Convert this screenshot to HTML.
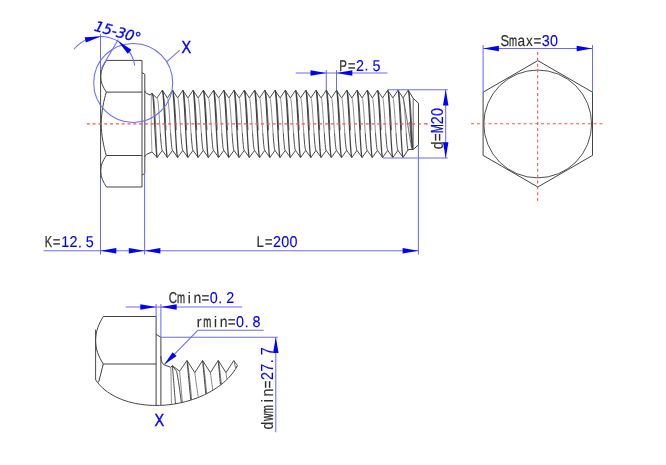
<!DOCTYPE html>
<html lang="en"><head><meta charset="utf-8"><title>Hex bolt dimensions</title>
<style>
html,body{margin:0;padding:0;background:#fff;}
body{width:666px;height:465px;overflow:hidden;}
svg{display:block;will-change:transform;}
text{font-family:"Liberation Sans",sans-serif;}
.m{font-family:"Liberation Sans",sans-serif;font-size:15.6px;}
.x{font-family:"Liberation Sans",sans-serif;font-size:16.3px;fill:#0000ff;stroke:#0000ff;stroke-width:0.4px;}
.a{font-family:"DejaVu Sans","Liberation Sans",sans-serif;font-style:oblique;font-size:14.3px;letter-spacing:-0.25px;fill:#0000ff;stroke:#0000ff;stroke-width:0.3px;}
</style></head><body>
<svg width="666" height="465" viewBox="0 0 666 465">
<rect width="666" height="465" fill="#fff"/>
<path d="M106.5,60.4 L142,60.4 L142,187 L106.5,187" stroke="#424242" stroke-width="1.0" fill="none" />
<path d="M100.6,69.5 L100.6,177.9" stroke="#4a4a4a" stroke-width="1.0" fill="none" />
<path d="M106.3,92.1 L142,92.1 M106.3,155.5 L142,155.5" stroke="#424242" stroke-width="1.0" fill="none" />
<path d="M106.5,60.4 C103.5,65 100.7,70 100.7,76.5 C100.7,82.5 103,87 106.3,92.1" stroke="#424242" stroke-width="1.0" fill="none" />
<path d="M106.3,92.1 C103.8,100.5 101.3,112 101.2,123.8 C101.3,135.6 103.8,147.1 106.3,155.5" stroke="#424242" stroke-width="1.0" fill="none" />
<path d="M106.5,187 C103.5,182.4 100.7,177.4 100.7,170.9 C100.7,164.9 103,160.4 106.3,155.5" stroke="#424242" stroke-width="1.0" fill="none" />
<path d="M142,72.5 L144.8,74.3 L144.8,173.3 L142,175.1" stroke="#424242" stroke-width="1.0" fill="none" />
<path d="M144.8,90.8 Q145,92.8 146.6,93.3 L150.2,95.1 L151.8,93.3" stroke="#424242" stroke-width="1.0" fill="none" />
<path d="M144.8,156.8 Q145,155 146.6,154.4 L152,151.9" stroke="#424242" stroke-width="1.0" fill="none" />
<path d="M151.4,93.9 C151.0,110 151.2,135 152,151.9" stroke="#777" stroke-width="0.7" fill="none" />
<path d="M151.8,93.3 L156.9,98.1 L162.3,90.3 L167.42,97.9 L172.55,90.3 L177.67,97.9 L182.79,90.3 L187.91,97.9 L193.04,90.3 L198.16,97.9 L203.28,90.3 L208.41,97.9 L213.53,90.3 L218.65,97.9 L223.78,90.3 L228.9,97.9 L234.02,90.3 L239.15,97.9 L244.27,90.3 L249.39,97.9 L254.51,90.3 L259.64,97.9 L264.76,90.3 L269.88,97.9 L275.01,90.3 L280.13,97.9 L285.25,90.3 L290.38,97.9 L295.5,90.3 L300.62,97.9 L305.74,90.3 L310.87,97.9 L315.99,90.3 L321.11,97.9 L326.24,90.3 L331.36,97.9 L336.48,90.3 L341.61,97.9 L346.73,90.3 L351.85,97.9 L356.97,90.3 L362.1,97.9 L367.22,90.3 L372.34,97.9 L377.47,90.3 L382.59,97.9 L387.71,90.3 L392.83,97.9 L397.96,90.3 L403.08,97.9 L408.2,90.3" stroke="#424242" stroke-width="0.95" fill="none" />
<path d="M152,151.9 L157.18,157.5 L162.3,150.4 L167.42,157.5 L172.55,150.4 L177.67,157.5 L182.79,150.4 L187.92,157.5 L193.04,150.4 L198.16,157.5 L203.28,150.4 L208.41,157.5 L213.53,150.4 L218.65,157.5 L223.78,150.4 L228.9,157.5 L234.02,150.4 L239.15,157.5 L244.27,150.4 L249.39,157.5 L254.51,150.4 L259.64,157.5 L264.76,150.4 L269.88,157.5 L275.01,150.4 L280.13,157.5 L285.25,150.4 L290.38,157.5 L295.5,150.4 L300.62,157.5 L305.74,150.4 L310.87,157.5 L315.99,150.4 L321.11,157.5 L326.24,150.4 L331.36,157.5 L336.48,150.4 L341.61,157.5 L346.73,150.4 L351.85,157.5 L356.97,150.4 L362.1,157.5 L367.22,150.4 L372.34,157.5 L377.47,150.4 L382.59,157.5 L387.71,150.4 L392.84,157.5 L397.96,150.4 L403.08,157.5" stroke="#424242" stroke-width="0.95" fill="none" />
<path d="M151.8,93.3 L152.95,95.96 L153.27,100.14 L153.6,105.23 L153.93,111.04 L154.27,117.34 L154.62,123.9 L154.96,130.46 L155.3,136.76 L155.63,142.57 L155.96,147.66 L156.28,151.84 L156.59,154.94 L156.89,156.85 L157.18,157.5" stroke="#424242" stroke-width="1.1" fill="none" />
<path d="M151.8,93.3 L153.45,95.96 L153.91,100.14 L154.35,105.23 L154.77,111.04 L155.16,117.34 L155.52,123.9 L155.84,130.46 L156.13,136.76 L156.38,142.57 L156.6,147.66 L156.78,151.84 L156.93,154.94 L157.06,156.85 L157.18,157.5" stroke="#444" stroke-width="0.75" fill="none" />
<path d="M162.3,90.3 L162.59,90.95 L162.89,92.86 L163.2,95.96 L163.52,100.14 L163.85,105.23 L164.18,111.04 L164.52,117.34 L164.86,123.9 L165.2,130.46 L165.54,136.76 L165.88,142.57 L166.21,147.66 L166.53,151.84 L166.84,154.94 L167.14,156.85 L167.42,157.5" stroke="#424242" stroke-width="1.25" fill="none" />
<path d="M162.3,90.3 L162.7,90.82 L163.1,92.36 L163.5,94.87 L163.9,98.28 L164.29,102.48 L164.67,107.34 L165.03,112.72 L165.37,118.44 L165.68,124.32 L165.98,130.2" stroke="#3a3a3a" stroke-width="0.8" fill="none" />
<path d="M172.55,90.3 L172.83,90.95 L173.13,92.86 L173.44,95.96 L173.76,100.14 L174.09,105.23 L174.43,111.04 L174.77,117.34 L175.11,123.9 L175.45,130.46 L175.79,136.76 L176.12,142.57 L176.45,147.66 L176.77,151.84 L177.08,154.94 L177.38,156.85 L177.67,157.5" stroke="#424242" stroke-width="1.25" fill="none" />
<path d="M172.55,90.3 L172.94,90.82 L173.35,92.36 L173.75,94.87 L174.15,98.28 L174.54,102.48 L174.91,107.34 L175.27,112.72 L175.61,118.44 L175.93,124.32 L176.22,130.2" stroke="#3a3a3a" stroke-width="0.8" fill="none" />
<path d="M182.79,90.3 L183.08,90.95 L183.38,92.86 L183.69,95.96 L184.01,100.14 L184.34,105.23 L184.67,111.04 L185.01,117.34 L185.35,123.9 L185.7,130.46 L186.03,136.76 L186.37,142.57 L186.7,147.66 L187.02,151.84 L187.33,154.94 L187.63,156.85 L187.91,157.5" stroke="#424242" stroke-width="1.25" fill="none" />
<path d="M182.79,90.3 L183.19,90.82 L183.59,92.36 L183.99,94.87 L184.39,98.28 L184.78,102.48 L185.16,107.34 L185.52,112.72 L185.86,118.44 L186.18,124.32 L186.47,130.2" stroke="#3a3a3a" stroke-width="0.8" fill="none" />
<path d="M193.04,90.3 L193.33,90.95 L193.62,92.86 L193.94,95.96 L194.26,100.14 L194.58,105.23 L194.92,111.04 L195.26,117.34 L195.6,123.9 L195.94,130.46 L196.28,136.76 L196.62,142.57 L196.94,147.66 L197.26,151.84 L197.57,154.94 L197.87,156.85 L198.16,157.5" stroke="#424242" stroke-width="1.25" fill="none" />
<path d="M193.04,90.3 L193.44,90.82 L193.84,92.36 L194.24,94.87 L194.64,98.28 L195.03,102.48 L195.4,107.34 L195.76,112.72 L196.1,118.44 L196.42,124.32 L196.71,130.2" stroke="#3a3a3a" stroke-width="0.8" fill="none" />
<path d="M203.28,90.3 L203.57,90.95 L203.87,92.86 L204.18,95.96 L204.5,100.14 L204.83,105.23 L205.16,111.04 L205.5,117.34 L205.85,123.9 L206.19,130.46 L206.53,136.76 L206.86,142.57 L207.19,147.66 L207.51,151.84 L207.82,154.94 L208.12,156.85 L208.41,157.5" stroke="#424242" stroke-width="1.25" fill="none" />
<path d="M203.28,90.3 L203.68,90.82 L204.08,92.36 L204.49,94.87 L204.88,98.28 L205.27,102.48 L205.65,107.34 L206.01,112.72 L206.35,118.44 L206.67,124.32 L206.96,130.2" stroke="#3a3a3a" stroke-width="0.8" fill="none" />
<path d="M213.53,90.3 L213.82,90.95 L214.12,92.86 L214.43,95.96 L214.75,100.14 L215.08,105.23 L215.41,111.04 L215.75,117.34 L216.09,123.9 L216.43,130.46 L216.77,136.76 L217.11,142.57 L217.44,147.66 L217.76,151.84 L218.07,154.94 L218.37,156.85 L218.65,157.5" stroke="#424242" stroke-width="1.25" fill="none" />
<path d="M213.53,90.3 L213.93,90.82 L214.33,92.36 L214.73,94.87 L215.13,98.28 L215.52,102.48 L215.9,107.34 L216.26,112.72 L216.6,118.44 L216.91,124.32 L217.21,130.2" stroke="#3a3a3a" stroke-width="0.8" fill="none" />
<path d="M223.78,90.3 L224.06,90.95 L224.36,92.86 L224.67,95.96 L224.99,100.14 L225.32,105.23 L225.66,111.04 L226,117.34 L226.34,123.9 L226.68,130.46 L227.02,136.76 L227.35,142.57 L227.68,147.66 L228,151.84 L228.31,154.94 L228.61,156.85 L228.9,157.5" stroke="#424242" stroke-width="1.25" fill="none" />
<path d="M223.78,90.3 L224.17,90.82 L224.58,92.36 L224.98,94.87 L225.38,98.28 L225.77,102.48 L226.14,107.34 L226.5,112.72 L226.84,118.44 L227.16,124.32 L227.45,130.2" stroke="#3a3a3a" stroke-width="0.8" fill="none" />
<path d="M234.02,90.3 L234.31,90.95 L234.61,92.86 L234.92,95.96 L235.24,100.14 L235.57,105.23 L235.9,111.04 L236.24,117.34 L236.58,123.9 L236.93,130.46 L237.26,136.76 L237.6,142.57 L237.93,147.66 L238.25,151.84 L238.56,154.94 L238.86,156.85 L239.15,157.5" stroke="#424242" stroke-width="1.25" fill="none" />
<path d="M234.02,90.3 L234.42,90.82 L234.82,92.36 L235.22,94.87 L235.62,98.28 L236.01,102.48 L236.39,107.34 L236.75,112.72 L237.09,118.44 L237.41,124.32 L237.7,130.2" stroke="#3a3a3a" stroke-width="0.8" fill="none" />
<path d="M244.27,90.3 L244.56,90.95 L244.85,92.86 L245.17,95.96 L245.49,100.14 L245.81,105.23 L246.15,111.04 L246.49,117.34 L246.83,123.9 L247.17,130.46 L247.51,136.76 L247.85,142.57 L248.17,147.66 L248.49,151.84 L248.8,154.94 L249.1,156.85 L249.39,157.5" stroke="#424242" stroke-width="1.25" fill="none" />
<path d="M244.27,90.3 L244.67,90.82 L245.07,92.36 L245.47,94.87 L245.87,98.28 L246.26,102.48 L246.63,107.34 L246.99,112.72 L247.33,118.44 L247.65,124.32 L247.94,130.2" stroke="#3a3a3a" stroke-width="0.8" fill="none" />
<path d="M254.51,90.3 L254.8,90.95 L255.1,92.86 L255.41,95.96 L255.73,100.14 L256.06,105.23 L256.39,111.04 L256.73,117.34 L257.08,123.9 L257.42,130.46 L257.76,136.76 L258.09,142.57 L258.42,147.66 L258.74,151.84 L259.05,154.94 L259.35,156.85 L259.64,157.5" stroke="#424242" stroke-width="1.25" fill="none" />
<path d="M254.51,90.3 L254.91,90.82 L255.31,92.36 L255.72,94.87 L256.11,98.28 L256.5,102.48 L256.88,107.34 L257.24,112.72 L257.58,118.44 L257.9,124.32 L258.19,130.2" stroke="#3a3a3a" stroke-width="0.8" fill="none" />
<path d="M264.76,90.3 L265.05,90.95 L265.35,92.86 L265.66,95.96 L265.98,100.14 L266.31,105.23 L266.64,111.04 L266.98,117.34 L267.32,123.9 L267.66,130.46 L268,136.76 L268.34,142.57 L268.67,147.66 L268.99,151.84 L269.3,154.94 L269.6,156.85 L269.88,157.5" stroke="#424242" stroke-width="1.25" fill="none" />
<path d="M264.76,90.3 L265.16,90.82 L265.56,92.36 L265.96,94.87 L266.36,98.28 L266.75,102.48 L267.13,107.34 L267.49,112.72 L267.83,118.44 L268.14,124.32 L268.44,130.2" stroke="#3a3a3a" stroke-width="0.8" fill="none" />
<path d="M275.01,90.3 L275.29,90.95 L275.59,92.86 L275.9,95.96 L276.22,100.14 L276.55,105.23 L276.89,111.04 L277.23,117.34 L277.57,123.9 L277.91,130.46 L278.25,136.76 L278.58,142.57 L278.91,147.66 L279.23,151.84 L279.54,154.94 L279.84,156.85 L280.13,157.5" stroke="#424242" stroke-width="1.25" fill="none" />
<path d="M275.01,90.3 L275.4,90.82 L275.81,92.36 L276.21,94.87 L276.61,98.28 L277,102.48 L277.37,107.34 L277.73,112.72 L278.07,118.44 L278.39,124.32 L278.68,130.2" stroke="#3a3a3a" stroke-width="0.8" fill="none" />
<path d="M285.25,90.3 L285.54,90.95 L285.84,92.86 L286.15,95.96 L286.47,100.14 L286.8,105.23 L287.13,111.04 L287.47,117.34 L287.81,123.9 L288.16,130.46 L288.49,136.76 L288.83,142.57 L289.16,147.66 L289.48,151.84 L289.79,154.94 L290.09,156.85 L290.38,157.5" stroke="#424242" stroke-width="1.25" fill="none" />
<path d="M285.25,90.3 L285.65,90.82 L286.05,92.36 L286.45,94.87 L286.85,98.28 L287.24,102.48 L287.62,107.34 L287.98,112.72 L288.32,118.44 L288.64,124.32 L288.93,130.2" stroke="#3a3a3a" stroke-width="0.8" fill="none" />
<path d="M295.5,90.3 L295.79,90.95 L296.08,92.86 L296.4,95.96 L296.72,100.14 L297.04,105.23 L297.38,111.04 L297.72,117.34 L298.06,123.9 L298.4,130.46 L298.74,136.76 L299.08,142.57 L299.4,147.66 L299.72,151.84 L300.03,154.94 L300.33,156.85 L300.62,157.5" stroke="#424242" stroke-width="1.25" fill="none" />
<path d="M295.5,90.3 L295.9,90.82 L296.3,92.36 L296.7,94.87 L297.1,98.28 L297.49,102.48 L297.86,107.34 L298.22,112.72 L298.56,118.44 L298.88,124.32 L299.17,130.2" stroke="#3a3a3a" stroke-width="0.8" fill="none" />
<path d="M305.74,90.3 L306.03,90.95 L306.33,92.86 L306.64,95.96 L306.96,100.14 L307.29,105.23 L307.62,111.04 L307.96,117.34 L308.31,123.9 L308.65,130.46 L308.99,136.76 L309.32,142.57 L309.65,147.66 L309.97,151.84 L310.28,154.94 L310.58,156.85 L310.87,157.5" stroke="#424242" stroke-width="1.25" fill="none" />
<path d="M305.74,90.3 L306.14,90.82 L306.54,92.36 L306.95,94.87 L307.34,98.28 L307.73,102.48 L308.11,107.34 L308.47,112.72 L308.81,118.44 L309.13,124.32 L309.42,130.2" stroke="#3a3a3a" stroke-width="0.8" fill="none" />
<path d="M315.99,90.3 L316.28,90.95 L316.58,92.86 L316.89,95.96 L317.21,100.14 L317.54,105.23 L317.87,111.04 L318.21,117.34 L318.55,123.9 L318.89,130.46 L319.23,136.76 L319.57,142.57 L319.9,147.66 L320.22,151.84 L320.53,154.94 L320.83,156.85 L321.11,157.5" stroke="#424242" stroke-width="1.25" fill="none" />
<path d="M315.99,90.3 L316.39,90.82 L316.79,92.36 L317.19,94.87 L317.59,98.28 L317.98,102.48 L318.36,107.34 L318.72,112.72 L319.06,118.44 L319.37,124.32 L319.67,130.2" stroke="#3a3a3a" stroke-width="0.8" fill="none" />
<path d="M326.24,90.3 L326.52,90.95 L326.82,92.86 L327.13,95.96 L327.45,100.14 L327.78,105.23 L328.12,111.04 L328.46,117.34 L328.8,123.9 L329.14,130.46 L329.48,136.76 L329.81,142.57 L330.14,147.66 L330.46,151.84 L330.77,154.94 L331.07,156.85 L331.36,157.5" stroke="#424242" stroke-width="1.25" fill="none" />
<path d="M326.24,90.3 L326.63,90.82 L327.04,92.36 L327.44,94.87 L327.84,98.28 L328.23,102.48 L328.6,107.34 L328.96,112.72 L329.3,118.44 L329.62,124.32 L329.91,130.2" stroke="#3a3a3a" stroke-width="0.8" fill="none" />
<path d="M336.48,90.3 L336.77,90.95 L337.07,92.86 L337.38,95.96 L337.7,100.14 L338.03,105.23 L338.36,111.04 L338.7,117.34 L339.04,123.9 L339.39,130.46 L339.72,136.76 L340.06,142.57 L340.39,147.66 L340.71,151.84 L341.02,154.94 L341.32,156.85 L341.61,157.5" stroke="#424242" stroke-width="1.25" fill="none" />
<path d="M336.48,90.3 L336.88,90.82 L337.28,92.36 L337.68,94.87 L338.08,98.28 L338.47,102.48 L338.85,107.34 L339.21,112.72 L339.55,118.44 L339.87,124.32 L340.16,130.2" stroke="#3a3a3a" stroke-width="0.8" fill="none" />
<path d="M346.73,90.3 L347.02,90.95 L347.31,92.86 L347.63,95.96 L347.95,100.14 L348.27,105.23 L348.61,111.04 L348.95,117.34 L349.29,123.9 L349.63,130.46 L349.97,136.76 L350.31,142.57 L350.63,147.66 L350.95,151.84 L351.26,154.94 L351.56,156.85 L351.85,157.5" stroke="#424242" stroke-width="1.25" fill="none" />
<path d="M346.73,90.3 L347.13,90.82 L347.53,92.36 L347.93,94.87 L348.33,98.28 L348.72,102.48 L349.09,107.34 L349.45,112.72 L349.79,118.44 L350.11,124.32 L350.4,130.2" stroke="#3a3a3a" stroke-width="0.8" fill="none" />
<path d="M356.97,90.3 L357.26,90.95 L357.56,92.86 L357.87,95.96 L358.19,100.14 L358.52,105.23 L358.85,111.04 L359.19,117.34 L359.54,123.9 L359.88,130.46 L360.22,136.76 L360.55,142.57 L360.88,147.66 L361.2,151.84 L361.51,154.94 L361.81,156.85 L362.1,157.5" stroke="#424242" stroke-width="1.25" fill="none" />
<path d="M356.97,90.3 L357.37,90.82 L357.77,92.36 L358.18,94.87 L358.57,98.28 L358.96,102.48 L359.34,107.34 L359.7,112.72 L360.04,118.44 L360.36,124.32 L360.65,130.2" stroke="#3a3a3a" stroke-width="0.8" fill="none" />
<path d="M367.22,90.3 L367.51,90.95 L367.81,92.86 L368.12,95.96 L368.44,100.14 L368.77,105.23 L369.1,111.04 L369.44,117.34 L369.78,123.9 L370.12,130.46 L370.46,136.76 L370.8,142.57 L371.13,147.66 L371.45,151.84 L371.76,154.94 L372.06,156.85 L372.34,157.5" stroke="#424242" stroke-width="1.25" fill="none" />
<path d="M367.22,90.3 L367.62,90.82 L368.02,92.36 L368.42,94.87 L368.82,98.28 L369.21,102.48 L369.59,107.34 L369.95,112.72 L370.29,118.44 L370.6,124.32 L370.9,130.2" stroke="#3a3a3a" stroke-width="0.8" fill="none" />
<path d="M377.47,90.3 L377.75,90.95 L378.05,92.86 L378.36,95.96 L378.68,100.14 L379.01,105.23 L379.35,111.04 L379.69,117.34 L380.03,123.9 L380.37,130.46 L380.71,136.76 L381.04,142.57 L381.37,147.66 L381.69,151.84 L382,154.94 L382.3,156.85 L382.59,157.5" stroke="#424242" stroke-width="1.25" fill="none" />
<path d="M377.47,90.3 L377.86,90.82 L378.27,92.36 L378.67,94.87 L379.07,98.28 L379.46,102.48 L379.83,107.34 L380.19,112.72 L380.53,118.44 L380.85,124.32 L381.14,130.2" stroke="#3a3a3a" stroke-width="0.8" fill="none" />
<path d="M387.71,90.3 L388,90.95 L388.3,92.86 L388.61,95.96 L388.93,100.14 L389.26,105.23 L389.59,111.04 L389.93,117.34 L390.27,123.9 L390.62,130.46 L390.95,136.76 L391.29,142.57 L391.62,147.66 L391.94,151.84 L392.25,154.94 L392.55,156.85 L392.83,157.5" stroke="#424242" stroke-width="1.25" fill="none" />
<path d="M387.71,90.3 L388.11,90.82 L388.51,92.36 L388.91,94.87 L389.31,98.28 L389.7,102.48 L390.08,107.34 L390.44,112.72 L390.78,118.44 L391.1,124.32 L391.39,130.2" stroke="#3a3a3a" stroke-width="0.8" fill="none" />
<path d="M397.96,90.3 L398.25,90.95 L398.54,92.86 L398.86,95.96 L399.18,100.14 L399.5,105.23 L399.84,111.04 L400.18,117.34 L400.52,123.9 L400.86,130.46 L401.2,136.76 L401.54,142.57 L401.86,147.66 L402.18,151.84 L402.49,154.94 L402.79,156.85 L403.08,157.5" stroke="#424242" stroke-width="1.25" fill="none" />
<path d="M397.96,90.3 L398.36,90.82 L398.76,92.36 L399.16,94.87 L399.56,98.28 L399.95,102.48 L400.32,107.34 L400.68,112.72 L401.02,118.44 L401.34,124.32 L401.63,130.2" stroke="#3a3a3a" stroke-width="0.8" fill="none" />
<path d="M157.18,97.9 L157.43,98.3 L157.7,99.48 L157.97,101.42 L158.25,104.04 L158.54,107.28 L158.83,111.03 L159.13,115.17 L159.43,119.59 L159.74,124.15 L160.04,128.71 L160.34,133.13" stroke="#7c7c7c" stroke-width="0.85" fill="none" />
<path d="M160.34,133.13 L160.64,137.28 L160.94,141.02 L161.23,144.26 L161.51,146.88 L161.78,148.82 L162.04,150 L162.3,150.4" stroke="#505050" stroke-width="1.0" fill="none" />
<path d="M167.42,97.9 L167.68,98.3 L167.94,99.48 L168.22,101.42 L168.5,104.04 L168.79,107.28 L169.08,111.03 L169.38,115.17 L169.68,119.59 L169.98,124.15 L170.29,128.71 L170.59,133.13" stroke="#7c7c7c" stroke-width="0.85" fill="none" />
<path d="M170.59,133.13 L170.89,137.28 L171.18,141.02 L171.47,144.26 L171.75,146.88 L172.03,148.82 L172.29,150 L172.55,150.4" stroke="#505050" stroke-width="1.0" fill="none" />
<path d="M177.67,97.9 L177.92,98.3 L178.19,99.48 L178.46,101.42 L178.74,104.04 L179.03,107.28 L179.33,111.03 L179.62,115.17 L179.93,119.59 L180.23,124.15 L180.53,128.71 L180.84,133.13" stroke="#7c7c7c" stroke-width="0.85" fill="none" />
<path d="M180.84,133.13 L181.14,137.28 L181.43,141.02 L181.72,144.26 L182,146.88 L182.27,148.82 L182.54,150 L182.79,150.4" stroke="#505050" stroke-width="1.0" fill="none" />
<path d="M187.91,97.9 L188.17,98.3 L188.43,99.48 L188.71,101.42 L188.99,104.04 L189.28,107.28 L189.57,111.03 L189.87,115.17 L190.17,119.59 L190.48,124.15 L190.78,128.71 L191.08,133.13" stroke="#7c7c7c" stroke-width="0.85" fill="none" />
<path d="M191.08,133.13 L191.38,137.28 L191.68,141.02 L191.96,144.26 L192.25,146.88 L192.52,148.82 L192.78,150 L193.04,150.4" stroke="#505050" stroke-width="1.0" fill="none" />
<path d="M198.16,97.9 L198.42,98.3 L198.68,99.48 L198.95,101.42 L199.23,104.04 L199.52,107.28 L199.82,111.03 L200.12,115.17 L200.42,119.59 L200.72,124.15 L201.03,128.71 L201.33,133.13" stroke="#7c7c7c" stroke-width="0.85" fill="none" />
<path d="M201.33,133.13 L201.63,137.28 L201.92,141.02 L202.21,144.26 L202.49,146.88 L202.76,148.82 L203.03,150 L203.28,150.4" stroke="#505050" stroke-width="1.0" fill="none" />
<path d="M208.41,97.9 L208.66,98.3 L208.93,99.48 L209.2,101.42 L209.48,104.04 L209.77,107.28 L210.06,111.03 L210.36,115.17 L210.66,119.59 L210.97,124.15 L211.27,128.71 L211.57,133.13" stroke="#7c7c7c" stroke-width="0.85" fill="none" />
<path d="M211.57,133.13 L211.87,137.28 L212.17,141.02 L212.46,144.26 L212.74,146.88 L213.01,148.82 L213.27,150 L213.53,150.4" stroke="#505050" stroke-width="1.0" fill="none" />
<path d="M218.65,97.9 L218.91,98.3 L219.17,99.48 L219.45,101.42 L219.73,104.04 L220.02,107.28 L220.31,111.03 L220.61,115.17 L220.91,119.59 L221.21,124.15 L221.52,128.71 L221.82,133.13" stroke="#7c7c7c" stroke-width="0.85" fill="none" />
<path d="M221.82,133.13 L222.12,137.28 L222.41,141.02 L222.7,144.26 L222.98,146.88 L223.26,148.82 L223.52,150 L223.78,150.4" stroke="#505050" stroke-width="1.0" fill="none" />
<path d="M228.9,97.9 L229.15,98.3 L229.42,99.48 L229.69,101.42 L229.97,104.04 L230.26,107.28 L230.56,111.03 L230.85,115.17 L231.16,119.59 L231.46,124.15 L231.76,128.71 L232.07,133.13" stroke="#7c7c7c" stroke-width="0.85" fill="none" />
<path d="M232.07,133.13 L232.37,137.28 L232.66,141.02 L232.95,144.26 L233.23,146.88 L233.5,148.82 L233.77,150 L234.02,150.4" stroke="#505050" stroke-width="1.0" fill="none" />
<path d="M239.15,97.9 L239.4,98.3 L239.66,99.48 L239.94,101.42 L240.22,104.04 L240.51,107.28 L240.8,111.03 L241.1,115.17 L241.4,119.59 L241.71,124.15 L242.01,128.71 L242.31,133.13" stroke="#7c7c7c" stroke-width="0.85" fill="none" />
<path d="M242.31,133.13 L242.61,137.28 L242.91,141.02 L243.19,144.26 L243.48,146.88 L243.75,148.82 L244.01,150 L244.27,150.4" stroke="#505050" stroke-width="1.0" fill="none" />
<path d="M249.39,97.9 L249.65,98.3 L249.91,99.48 L250.18,101.42 L250.46,104.04 L250.75,107.28 L251.05,111.03 L251.35,115.17 L251.65,119.59 L251.95,124.15 L252.26,128.71 L252.56,133.13" stroke="#7c7c7c" stroke-width="0.85" fill="none" />
<path d="M252.56,133.13 L252.86,137.28 L253.15,141.02 L253.44,144.26 L253.72,146.88 L253.99,148.82 L254.26,150 L254.51,150.4" stroke="#505050" stroke-width="1.0" fill="none" />
<path d="M259.64,97.9 L259.89,98.3 L260.16,99.48 L260.43,101.42 L260.71,104.04 L261,107.28 L261.29,111.03 L261.59,115.17 L261.89,119.59 L262.2,124.15 L262.5,128.71 L262.8,133.13" stroke="#7c7c7c" stroke-width="0.85" fill="none" />
<path d="M262.8,133.13 L263.1,137.28 L263.4,141.02 L263.69,144.26 L263.97,146.88 L264.24,148.82 L264.5,150 L264.76,150.4" stroke="#505050" stroke-width="1.0" fill="none" />
<path d="M269.88,97.9 L270.14,98.3 L270.4,99.48 L270.68,101.42 L270.96,104.04 L271.25,107.28 L271.54,111.03 L271.84,115.17 L272.14,119.59 L272.44,124.15 L272.75,128.71 L273.05,133.13" stroke="#7c7c7c" stroke-width="0.85" fill="none" />
<path d="M273.05,133.13 L273.35,137.28 L273.64,141.02 L273.93,144.26 L274.21,146.88 L274.49,148.82 L274.75,150 L275.01,150.4" stroke="#505050" stroke-width="1.0" fill="none" />
<path d="M280.13,97.9 L280.38,98.3 L280.65,99.48 L280.92,101.42 L281.2,104.04 L281.49,107.28 L281.79,111.03 L282.08,115.17 L282.39,119.59 L282.69,124.15 L282.99,128.71 L283.3,133.13" stroke="#7c7c7c" stroke-width="0.85" fill="none" />
<path d="M283.3,133.13 L283.6,137.28 L283.89,141.02 L284.18,144.26 L284.46,146.88 L284.73,148.82 L285,150 L285.25,150.4" stroke="#505050" stroke-width="1.0" fill="none" />
<path d="M290.38,97.9 L290.63,98.3 L290.89,99.48 L291.17,101.42 L291.45,104.04 L291.74,107.28 L292.03,111.03 L292.33,115.17 L292.63,119.59 L292.94,124.15 L293.24,128.71 L293.54,133.13" stroke="#7c7c7c" stroke-width="0.85" fill="none" />
<path d="M293.54,133.13 L293.84,137.28 L294.14,141.02 L294.42,144.26 L294.71,146.88 L294.98,148.82 L295.24,150 L295.5,150.4" stroke="#505050" stroke-width="1.0" fill="none" />
<path d="M300.62,97.9 L300.88,98.3 L301.14,99.48 L301.41,101.42 L301.69,104.04 L301.98,107.28 L302.28,111.03 L302.58,115.17 L302.88,119.59 L303.18,124.15 L303.49,128.71 L303.79,133.13" stroke="#7c7c7c" stroke-width="0.85" fill="none" />
<path d="M303.79,133.13 L304.09,137.28 L304.38,141.02 L304.67,144.26 L304.95,146.88 L305.22,148.82 L305.49,150 L305.74,150.4" stroke="#505050" stroke-width="1.0" fill="none" />
<path d="M310.87,97.9 L311.12,98.3 L311.39,99.48 L311.66,101.42 L311.94,104.04 L312.23,107.28 L312.52,111.03 L312.82,115.17 L313.12,119.59 L313.43,124.15 L313.73,128.71 L314.03,133.13" stroke="#7c7c7c" stroke-width="0.85" fill="none" />
<path d="M314.03,133.13 L314.33,137.28 L314.63,141.02 L314.92,144.26 L315.2,146.88 L315.47,148.82 L315.73,150 L315.99,150.4" stroke="#505050" stroke-width="1.0" fill="none" />
<path d="M321.11,97.9 L321.37,98.3 L321.63,99.48 L321.91,101.42 L322.19,104.04 L322.48,107.28 L322.77,111.03 L323.07,115.17 L323.37,119.59 L323.67,124.15 L323.98,128.71 L324.28,133.13" stroke="#7c7c7c" stroke-width="0.85" fill="none" />
<path d="M324.28,133.13 L324.58,137.28 L324.87,141.02 L325.16,144.26 L325.44,146.88 L325.72,148.82 L325.98,150 L326.24,150.4" stroke="#505050" stroke-width="1.0" fill="none" />
<path d="M331.36,97.9 L331.61,98.3 L331.88,99.48 L332.15,101.42 L332.43,104.04 L332.72,107.28 L333.02,111.03 L333.31,115.17 L333.62,119.59 L333.92,124.15 L334.22,128.71 L334.53,133.13" stroke="#7c7c7c" stroke-width="0.85" fill="none" />
<path d="M334.53,133.13 L334.83,137.28 L335.12,141.02 L335.41,144.26 L335.69,146.88 L335.96,148.82 L336.23,150 L336.48,150.4" stroke="#505050" stroke-width="1.0" fill="none" />
<path d="M341.61,97.9 L341.86,98.3 L342.12,99.48 L342.4,101.42 L342.68,104.04 L342.97,107.28 L343.26,111.03 L343.56,115.17 L343.86,119.59 L344.17,124.15 L344.47,128.71 L344.77,133.13" stroke="#7c7c7c" stroke-width="0.85" fill="none" />
<path d="M344.77,133.13 L345.07,137.28 L345.37,141.02 L345.65,144.26 L345.94,146.88 L346.21,148.82 L346.47,150 L346.73,150.4" stroke="#505050" stroke-width="1.0" fill="none" />
<path d="M351.85,97.9 L352.11,98.3 L352.37,99.48 L352.64,101.42 L352.92,104.04 L353.21,107.28 L353.51,111.03 L353.81,115.17 L354.11,119.59 L354.41,124.15 L354.72,128.71 L355.02,133.13" stroke="#7c7c7c" stroke-width="0.85" fill="none" />
<path d="M355.02,133.13 L355.32,137.28 L355.61,141.02 L355.9,144.26 L356.18,146.88 L356.45,148.82 L356.72,150 L356.97,150.4" stroke="#505050" stroke-width="1.0" fill="none" />
<path d="M362.1,97.9 L362.35,98.3 L362.62,99.48 L362.89,101.42 L363.17,104.04 L363.46,107.28 L363.75,111.03 L364.05,115.17 L364.35,119.59 L364.66,124.15 L364.96,128.71 L365.26,133.13" stroke="#7c7c7c" stroke-width="0.85" fill="none" />
<path d="M365.26,133.13 L365.56,137.28 L365.86,141.02 L366.15,144.26 L366.43,146.88 L366.7,148.82 L366.96,150 L367.22,150.4" stroke="#505050" stroke-width="1.0" fill="none" />
<path d="M372.34,97.9 L372.6,98.3 L372.86,99.48 L373.14,101.42 L373.42,104.04 L373.71,107.28 L374,111.03 L374.3,115.17 L374.6,119.59 L374.9,124.15 L375.21,128.71 L375.51,133.13" stroke="#7c7c7c" stroke-width="0.85" fill="none" />
<path d="M375.51,133.13 L375.81,137.28 L376.1,141.02 L376.39,144.26 L376.67,146.88 L376.95,148.82 L377.21,150 L377.47,150.4" stroke="#505050" stroke-width="1.0" fill="none" />
<path d="M382.59,97.9 L382.84,98.3 L383.11,99.48 L383.38,101.42 L383.66,104.04 L383.95,107.28 L384.25,111.03 L384.54,115.17 L384.85,119.59 L385.15,124.15 L385.45,128.71 L385.76,133.13" stroke="#7c7c7c" stroke-width="0.85" fill="none" />
<path d="M385.76,133.13 L386.06,137.28 L386.35,141.02 L386.64,144.26 L386.92,146.88 L387.19,148.82 L387.46,150 L387.71,150.4" stroke="#505050" stroke-width="1.0" fill="none" />
<path d="M392.84,97.9 L393.09,98.3 L393.35,99.48 L393.63,101.42 L393.91,104.04 L394.2,107.28 L394.49,111.03 L394.79,115.17 L395.09,119.59 L395.4,124.15 L395.7,128.71 L396,133.13" stroke="#7c7c7c" stroke-width="0.85" fill="none" />
<path d="M396,133.13 L396.3,137.28 L396.6,141.02 L396.88,144.26 L397.17,146.88 L397.44,148.82 L397.7,150 L397.96,150.4" stroke="#505050" stroke-width="1.0" fill="none" />
<path d="M403.08,97.9 L403.34,98.3 L403.6,99.48 L403.87,101.42 L404.15,104.04 L404.44,107.28 L404.74,111.03 L405.04,115.17 L405.34,119.59 L405.64,124.15 L405.95,128.71 L406.25,133.13" stroke="#7c7c7c" stroke-width="0.85" fill="none" />
<path d="M406.25,133.13 L406.55,137.28 L406.84,141.02 L407.13,144.26 L407.41,146.88 L407.68,148.82 L407.95,150 L408.2,150.4" stroke="#505050" stroke-width="1.0" fill="none" />
<path d="M408.2,90.3 L413.2,98.3 L418.5,103.2 L418.5,144.9 L413.2,149.5 L408.3,149.5 L403.08,157.5" stroke="#424242" stroke-width="1.0" fill="none" />
<path d="M413.2,98.3 L413.2,149.5" stroke="#424242" stroke-width="0.8" fill="none" />
<path d="M408.2,90.3 L408.49,90.95 L408.79,92.86 L409.1,95.96 L409.42,100.14 L409.75,105.23 L410.08,111.04 L410.42,117.34 L410.77,123.9 L411.11,130.46 L411.45,136.76 L411.78,142.57 L412.11,147.66" stroke="#424242" stroke-width="1.15" fill="none" />
<path d="M408.2,90.3 L408.65,90.95 L409.1,92.86 L409.55,95.96 L409.99,100.14 L410.41,105.23 L410.82,111.04 L411.21,117.34 L411.57,123.9 L411.89,130.46 L412.19,136.76 L412.45,142.57 L412.68,147.66" stroke="#3a3a3a" stroke-width="0.75" fill="none" />
<path d="M403.08,97.9 C405.5,108 409,135 412,149.5" stroke="#555" stroke-width="0.85" fill="none" />
<path d="M409.8,122 C410.6,135 411.5,143 412.6,149.5" stroke="#424242" stroke-width="0.9" fill="none" />
<line x1="86.8" y1="123.9" x2="427.2" y2="123.9" stroke="#ff5252" stroke-width="1.1" stroke-dasharray="3 2.81"/>
<line x1="426" y1="123.9" x2="427.8" y2="123.9" stroke="#ff5252" stroke-width="1.1" />
<circle cx="133.2" cy="82.9" r="39.5" stroke="#6a6aff" stroke-width="1.05" fill="none"/>
<line x1="166.6" y1="61.8" x2="179.6" y2="50.4" stroke="#6a6aff" stroke-width="1.05" />
<line x1="100.5" y1="34.2" x2="100.5" y2="69.5" stroke="#6a6aff" stroke-width="1.05" />
<line x1="100.5" y1="177.9" x2="100.5" y2="254.4" stroke="#6a6aff" stroke-width="1.05" />
<line x1="101.2" y1="68.4" x2="118.3" y2="39.6" stroke="#6a6aff" stroke-width="1.05" />
<path d="M73.89,49.29 A34.5,34.5 0 0 1 134.78,65.6" stroke="#6a6aff" stroke-width="1.05" fill="none" />
<polygon points="100.7,36.5 85.87,42.6 84.68,37.23" fill="#0000ff"/>
<polygon points="117.95,41.12 131.46,49.77 127.74,53.82" fill="#0000ff"/>
<line x1="43.6" y1="250.7" x2="418.4" y2="250.7" stroke="#6a6aff" stroke-width="1.05" />
<line x1="144.6" y1="173.3" x2="144.6" y2="254.4" stroke="#6a6aff" stroke-width="1.05" />
<line x1="418.4" y1="144.9" x2="418.4" y2="254.5" stroke="#6a6aff" stroke-width="1.05" />
<polygon points="100.5,250.7 116.3,247.95 116.3,253.45" fill="#0000ff"/>
<polygon points="144.6,250.7 128.8,253.45 128.8,247.95" fill="#0000ff"/>
<polygon points="144.6,250.7 160.4,247.95 160.4,253.45" fill="#0000ff"/>
<polygon points="418.4,250.7 402.6,253.45 402.6,247.95" fill="#0000ff"/>
<text y="247.4" class="m" transform="rotate(0.03 44.7 247.4)"><tspan x="44.71" fill="#2e2e2e" stroke="#2e2e2e" stroke-width="0.29" textLength="7.28" lengthAdjust="spacingAndGlyphs">K</tspan><tspan x="52.78" fill="#2e2e2e" stroke="#2e2e2e" stroke-width="0.16" textLength="7.83" lengthAdjust="spacingAndGlyphs">=</tspan><tspan x="61.21" fill="#0000ff" stroke="#0000ff" stroke-width="0.11" textLength="7.98" lengthAdjust="spacingAndGlyphs">1</tspan><tspan x="69.41" fill="#0000ff" stroke="#0000ff" stroke-width="0.11" textLength="7.98" lengthAdjust="spacingAndGlyphs">2</tspan><tspan x="77.7" fill="#0000ff" stroke="#0000ff" stroke-width="0.04">.</tspan><tspan x="85.81" fill="#0000ff" stroke="#0000ff" stroke-width="0.11" textLength="7.98" lengthAdjust="spacingAndGlyphs">5</tspan></text>
<text y="247.4" class="m" transform="rotate(0.03 256.6 247.4)"><tspan x="256.61" fill="#2e2e2e" stroke="#2e2e2e" stroke-width="0.17" textLength="7.37" lengthAdjust="spacingAndGlyphs">L</tspan><tspan x="264.68" fill="#2e2e2e" stroke="#2e2e2e" stroke-width="0.16" textLength="7.83" lengthAdjust="spacingAndGlyphs">=</tspan><tspan x="273.11" fill="#0000ff" stroke="#0000ff" stroke-width="0.11" textLength="7.98" lengthAdjust="spacingAndGlyphs">2</tspan><tspan x="281.31" fill="#0000ff" stroke="#0000ff" stroke-width="0.11" textLength="7.98" lengthAdjust="spacingAndGlyphs">0</tspan><tspan x="289.51" fill="#0000ff" stroke="#0000ff" stroke-width="0.11" textLength="7.98" lengthAdjust="spacingAndGlyphs">0</tspan></text>
<line x1="295.7" y1="73" x2="387.5" y2="73" stroke="#6a6aff" stroke-width="1.05" />
<line x1="326.3" y1="70.1" x2="326.3" y2="90.3" stroke="#6a6aff" stroke-width="1.05" />
<line x1="336.5" y1="70.1" x2="336.5" y2="90.3" stroke="#6a6aff" stroke-width="1.05" />
<polygon points="326.3,73 310.5,75.75 310.5,70.25" fill="#0000ff"/>
<polygon points="336.5,73 352.3,70.25 352.3,75.75" fill="#0000ff"/>
<text y="70.6" class="m" transform="rotate(0.03 339.55 70.6)"><tspan x="339.35" fill="#2e2e2e" stroke="#2e2e2e" stroke-width="0.27" textLength="7.6" lengthAdjust="spacingAndGlyphs">P</tspan><tspan x="347.63" fill="#2e2e2e" stroke="#2e2e2e" stroke-width="0.16" textLength="7.83" lengthAdjust="spacingAndGlyphs">=</tspan><tspan x="356.06" fill="#0000ff" stroke="#0000ff" stroke-width="0.11" textLength="7.98" lengthAdjust="spacingAndGlyphs">2</tspan><tspan x="364.35" fill="#0000ff" stroke="#0000ff" stroke-width="0.04">.</tspan><tspan x="372.46" fill="#0000ff" stroke="#0000ff" stroke-width="0.11" textLength="7.98" lengthAdjust="spacingAndGlyphs">5</tspan></text>
<line x1="387.5" y1="89.8" x2="447.8" y2="89.8" stroke="#6a6aff" stroke-width="1.05" />
<line x1="383" y1="158" x2="447.8" y2="158" stroke="#6a6aff" stroke-width="1.05" />
<line x1="445.7" y1="89.8" x2="445.7" y2="158" stroke="#6a6aff" stroke-width="1.05" />
<polygon points="445.7,89.8 448.45,105.6 442.95,105.6" fill="#0000ff"/>
<polygon points="445.7,158 442.95,142.2 448.45,142.2" fill="#0000ff"/>
<text y="149.5" class="m" transform="rotate(-90 443 149.5)"><tspan x="443.26" fill="#2e2e2e" stroke="#2e2e2e" stroke-width="0.12" textLength="7.81" lengthAdjust="spacingAndGlyphs">d</tspan><tspan x="451.28" fill="#2e2e2e" stroke="#2e2e2e" stroke-width="0.16" textLength="7.83" lengthAdjust="spacingAndGlyphs">=</tspan><tspan x="459.41" fill="#0000ff" stroke="#0000ff" stroke-width="0.31" textLength="8.84" lengthAdjust="spacingAndGlyphs">M</tspan><tspan x="468.17" fill="#0000ff" stroke="#0000ff" stroke-width="0.11" textLength="7.98" lengthAdjust="spacingAndGlyphs">2</tspan><tspan x="476.5" fill="#0000ff" stroke="#0000ff" stroke-width="0.11" textLength="7.98" lengthAdjust="spacingAndGlyphs">0</tspan></text>
<polygon points="537.8,60.6 592.5,92.2 592.5,155.4 537.8,187 483.1,155.4 483.1,92.2" fill="none" stroke="#2e2e2e" stroke-width="0.9"/>
<circle cx="537.7" cy="123.95" r="53.9" stroke="#3c3c3c" stroke-width="0.9" fill="none"/>
<line x1="471" y1="123.8" x2="603.4" y2="123.8" stroke="#ff5252" stroke-width="1.1" stroke-dasharray="3 2.84"/>
<line x1="537.65" y1="52" x2="537.65" y2="201.2" stroke="#ff5252" stroke-width="1.1" stroke-dasharray="3 2.84"/>
<line x1="483.1" y1="45" x2="483.1" y2="92.2" stroke="#6a6aff" stroke-width="1.05" />
<line x1="592.5" y1="45" x2="592.5" y2="92.2" stroke="#6a6aff" stroke-width="1.05" />
<line x1="483.1" y1="48.5" x2="592.5" y2="48.5" stroke="#6a6aff" stroke-width="1.05" />
<polygon points="483.1,48.5 498.9,45.75 498.9,51.25" fill="#0000ff"/>
<polygon points="592.5,48.5 576.7,51.25 576.7,45.75" fill="#0000ff"/>
<text y="46.1" class="m" transform="rotate(0.03 500.7 46.1)"><tspan x="500.48" fill="#2e2e2e" stroke="#2e2e2e" stroke-width="0.18" textLength="8.64" lengthAdjust="spacingAndGlyphs">S</tspan><tspan x="508.97" fill="#2e2e2e" stroke="#2e2e2e" stroke-width="0.36" textLength="8.06" lengthAdjust="spacingAndGlyphs">m</tspan><tspan x="517.38" fill="#2e2e2e" stroke="#2e2e2e" stroke-width="0.14" textLength="7.63" lengthAdjust="spacingAndGlyphs">a</tspan><tspan x="526.05" fill="#2e2e2e" stroke="#2e2e2e" stroke-width="0.16" textLength="6.71" lengthAdjust="spacingAndGlyphs">x</tspan><tspan x="533.38" fill="#2e2e2e" stroke="#2e2e2e" stroke-width="0.16" textLength="7.83" lengthAdjust="spacingAndGlyphs">=</tspan><tspan x="541.81" fill="#0000ff" stroke="#0000ff" stroke-width="0.11" textLength="7.98" lengthAdjust="spacingAndGlyphs">3</tspan><tspan x="550.01" fill="#0000ff" stroke="#0000ff" stroke-width="0.11" textLength="7.98" lengthAdjust="spacingAndGlyphs">0</tspan></text>
<path d="M103.3,316.5 L156.1,316.5 L156.1,405.44" stroke="#424242" stroke-width="1.0" fill="none" />
<path d="M95.6,329.5 L95.6,379.8" stroke="#4a4a4a" stroke-width="1.0" fill="none" />
<path d="M103.3,316.5 C99,323.5 95.6,331 95.6,340.5 C95.6,349.5 98.6,356.5 103.3,364 L156.1,364" stroke="#424242" stroke-width="1.0" fill="none" />
<path d="M103.3,364 L98.6,382.3" stroke="#424242" stroke-width="1.0" fill="none" />
<path d="M95.5,379.64 L97.87,382.93 L100.23,385.64 L102.6,387.96 L104.97,389.99 L107.33,391.79 L109.7,393.39 L112.07,394.84 L114.43,396.14 L116.8,397.32 L119.17,398.4 L121.53,399.37 L123.9,400.25 L126.27,401.04 L128.63,401.76 L131,402.4 L133.37,402.97 L135.73,403.48 L138.1,403.92 L140.47,404.31 L142.83,404.63 L145.2,404.9 L147.57,405.11 L149.93,405.27 L152.3,405.38 L154.67,405.43 L157.03,405.44 L159.4,405.39 L161.77,405.3 L164.13,405.16 L166.5,404.97 L168.87,404.73 L171.23,404.44 L173.6,404.1 L175.97,403.71 L178.33,403.27 L180.7,402.78 L183.07,402.24 L185.43,401.65 L187.8,401 L190.17,400.3 L192.53,399.54 L194.9,398.72 L197.27,397.84 L199.63,396.9 L202,395.88 L204.37,394.8 L206.73,393.64 L209.1,392.4 L211.47,391.07 L213.83,389.65 L216.2,388.12 L218.57,386.48 L220.93,384.71 L223.3,382.79 L225.67,380.71 L228.03,378.41 L230.4,375.86 L232.77,372.99 L235.13,369.67 L237.5,365.66" stroke="#424242" stroke-width="1.0" fill="none" />
<path d="M156.1,334.4 L160.9,337.2 L160.9,405.34" stroke="#424242" stroke-width="1.0" fill="none" />
<path d="M160.9,356 Q161,363 164.1,364.8 L170.7,367.3 L172.4,365.6" stroke="#424242" stroke-width="1.0" fill="none" />
<path d="M172.4,365.6 L179.6,371.2 L187,360.5 L194.8,372.6 L202.6,360.5 L210.4,372.6 L218.2,360.5 L226,372.6 L233.8,360.5 L237.5,365.66" stroke="#424242" stroke-width="0.95" fill="none" />
<path d="M234.2,361.6 L235.4,367.6 L237.4,366.2" stroke="#424242" stroke-width="0.7" fill="none" />
<path d="M187,360.5 L187.28,363.5 L187.57,366.5 L187.85,369.5 L188.14,372.5 L188.43,375.5 L188.71,378.5 L189,381.5 L189.28,384.5 L189.56,387.5 L189.85,390.5 L190.13,393.5 L190.42,396.5 L190.71,399.5 L190.99,400.04" stroke="#424242" stroke-width="1.0" fill="none" />
<path d="M187.5,361.5 L187.88,364.5 L188.26,367.5 L188.62,370.5 L188.97,373.5 L189.31,376.5 L189.65,379.5 L189.97,382.5 L190.27,385.5 L190.57,388.5 L190.86,391.5 L191.14,394.5 L191.4,397.5 L191.66,399.83" stroke="#3a3a3a" stroke-width="0.7" fill="none" />
<path d="M194.8,372.6 L195.19,375.6 L195.6,378.6 L196.01,381.6 L196.43,384.6 L196.86,387.6 L197.3,390.6 L197.75,393.6 L198.21,396.6 L198.67,397.29" stroke="#6a6a6a" stroke-width="0.8" fill="none" />
<path d="M202.6,360.5 L202.88,363.5 L203.17,366.5 L203.45,369.5 L203.74,372.5 L204.03,375.5 L204.31,378.5 L204.59,381.5 L204.88,384.5 L205.16,387.5 L205.45,390.5 L205.73,393.5 L206.02,394" stroke="#424242" stroke-width="1.0" fill="none" />
<path d="M203.1,361.5 L203.48,364.5 L203.86,367.5 L204.22,370.5 L204.57,373.5 L204.91,376.5 L205.25,379.5 L205.57,382.5 L205.87,385.5 L206.17,388.5 L206.46,391.5 L206.74,393.64" stroke="#3a3a3a" stroke-width="0.7" fill="none" />
<path d="M210.4,372.6 L210.79,375.6 L211.2,378.6 L211.61,381.6 L212.03,384.6 L212.46,387.6 L212.9,390.22" stroke="#6a6a6a" stroke-width="0.8" fill="none" />
<path d="M218.2,360.5 L218.48,363.5 L218.77,366.5 L219.05,369.5 L219.34,372.5 L219.62,375.5 L219.91,378.5 L220.19,381.5 L220.48,384.5 L220.76,384.84" stroke="#424242" stroke-width="1.0" fill="none" />
<path d="M218.7,361.5 L219.08,364.5 L219.46,367.5 L219.82,370.5 L220.17,373.5 L220.51,376.5 L220.85,379.5 L221.17,382.5 L221.47,384.29" stroke="#3a3a3a" stroke-width="0.7" fill="none" />
<path d="M226,372.6 L226.39,375.6 L226.8,378.6 L227.21,379.23" stroke="#6a6a6a" stroke-width="0.8" fill="none" />
<path d="M172.4,365.6 L172.64,368.6 L172.88,371.6 L173.12,374.6 L173.36,377.6 L173.6,380.6 L173.84,383.6 L174.08,386.6 L174.32,389.6 L174.56,392.6 L174.8,395.6 L175.04,398.6 L175.28,401.6 L175.52,403.79" stroke="#424242" stroke-width="0.95" fill="none" />
<path d="M173.3,367 L176.6,371.2 C178.2,379 179.8,390 181.4,402.63" stroke="#424242" stroke-width="0.95" fill="none" />
<path d="M179.6,371.2 L179.87,374.2 L180.14,377.2 L180.41,380.2 L180.68,383.2 L180.95,386.2 L181.22,389.2 L181.49,392.2 L181.76,395.2 L182.03,398.2 L182.3,401.2 L182.57,402.36" stroke="#6a6a6a" stroke-width="0.8" fill="none" />
<path d="M170.9,367.3 L170.94,370.3 L170.99,373.3 L171.03,376.3 L171.08,379.3 L171.12,382.3 L171.17,385.3 L171.22,388.3 L171.26,391.3 L171.31,394.3 L171.35,397.3 L171.4,400.3 L171.44,403.3 L171.49,404.4" stroke="#6a6a6a" stroke-width="0.8" fill="none" />
<line x1="125.6" y1="306.9" x2="242.2" y2="306.9" stroke="#6a6aff" stroke-width="1.05" />
<line x1="156.1" y1="304" x2="156.1" y2="316.5" stroke="#6a6aff" stroke-width="1.05" />
<line x1="160.9" y1="304" x2="160.9" y2="337.2" stroke="#6a6aff" stroke-width="1.05" />
<polygon points="156.1,306.9 140.3,309.65 140.3,304.15" fill="#0000ff"/>
<polygon points="160.9,306.9 176.7,304.15 176.7,309.65" fill="#0000ff"/>
<text y="303.3" class="m" transform="rotate(0.03 168.7 303.3)"><tspan x="168.66" fill="#2e2e2e" stroke="#2e2e2e" stroke-width="0.27" textLength="8.28" lengthAdjust="spacingAndGlyphs">C</tspan><tspan x="176.97" fill="#2e2e2e" stroke="#2e2e2e" stroke-width="0.36" textLength="8.06" lengthAdjust="spacingAndGlyphs">m</tspan><tspan x="187.47" fill="#2e2e2e" stroke="#2e2e2e" stroke-width="0.04">i</tspan><tspan x="193.5" fill="#2e2e2e" stroke="#2e2e2e" stroke-width="0.12" textLength="7.81" lengthAdjust="spacingAndGlyphs">n</tspan><tspan x="201.38" fill="#2e2e2e" stroke="#2e2e2e" stroke-width="0.16" textLength="7.83" lengthAdjust="spacingAndGlyphs">=</tspan><tspan x="209.81" fill="#0000ff" stroke="#0000ff" stroke-width="0.11" textLength="7.98" lengthAdjust="spacingAndGlyphs">0</tspan><tspan x="218.1" fill="#0000ff" stroke="#0000ff" stroke-width="0.04">.</tspan><tspan x="226.21" fill="#0000ff" stroke="#0000ff" stroke-width="0.11" textLength="7.98" lengthAdjust="spacingAndGlyphs">2</tspan></text>
<line x1="160.9" y1="337.2" x2="277.8" y2="337.2" stroke="#6a6aff" stroke-width="1.05" />
<line x1="275.8" y1="337.2" x2="275.8" y2="432.2" stroke="#6a6aff" stroke-width="1.05" />
<polygon points="275.8,337.2 278.55,353 273.05,353" fill="#0000ff"/>
<text y="429.8" class="m" transform="rotate(-90 272.7 429.8)"><tspan x="272.93" fill="#2e2e2e" stroke="#2e2e2e" stroke-width="0.12" textLength="7.81" lengthAdjust="spacingAndGlyphs">d</tspan><tspan x="281.39" fill="#2e2e2e" stroke="#2e2e2e" stroke-width="0.33" textLength="7.43" lengthAdjust="spacingAndGlyphs">w</tspan><tspan x="289.35" fill="#2e2e2e" stroke="#2e2e2e" stroke-width="0.36" textLength="8.06" lengthAdjust="spacingAndGlyphs">m</tspan><tspan x="299.91" fill="#2e2e2e" stroke="#2e2e2e" stroke-width="0.04">i</tspan><tspan x="306.01" fill="#2e2e2e" stroke="#2e2e2e" stroke-width="0.12" textLength="7.81" lengthAdjust="spacingAndGlyphs">n</tspan><tspan x="313.97" fill="#2e2e2e" stroke="#2e2e2e" stroke-width="0.16" textLength="7.83" lengthAdjust="spacingAndGlyphs">=</tspan><tspan x="322.47" fill="#0000ff" stroke="#0000ff" stroke-width="0.11" textLength="7.98" lengthAdjust="spacingAndGlyphs">2</tspan><tspan x="330.74" fill="#0000ff" stroke="#0000ff" stroke-width="0.11" textLength="7.98" lengthAdjust="spacingAndGlyphs">7</tspan><tspan x="339.06" fill="#0000ff" stroke="#0000ff" stroke-width="0.04">.</tspan><tspan x="347.28" fill="#0000ff" stroke="#0000ff" stroke-width="0.11" textLength="7.98" lengthAdjust="spacingAndGlyphs">7</tspan></text>
<line x1="198" y1="330.2" x2="263.7" y2="330.2" stroke="#6a6aff" stroke-width="1.05" />
<line x1="198" y1="330.2" x2="164.3" y2="364.6" stroke="#6a6aff" stroke-width="1.05" />
<polygon points="164.3,364.6 172.62,352.17 176.55,356.02" fill="#0000ff"/>
<text y="327.2" class="m" transform="rotate(0.03 195 327.2)"><tspan x="196.5" fill="#2e2e2e" stroke="#2e2e2e" stroke-width="0.04">r</tspan><tspan x="203.27" fill="#2e2e2e" stroke="#2e2e2e" stroke-width="0.36" textLength="8.06" lengthAdjust="spacingAndGlyphs">m</tspan><tspan x="213.77" fill="#2e2e2e" stroke="#2e2e2e" stroke-width="0.04">i</tspan><tspan x="219.8" fill="#2e2e2e" stroke="#2e2e2e" stroke-width="0.12" textLength="7.81" lengthAdjust="spacingAndGlyphs">n</tspan><tspan x="227.68" fill="#2e2e2e" stroke="#2e2e2e" stroke-width="0.16" textLength="7.83" lengthAdjust="spacingAndGlyphs">=</tspan><tspan x="236.11" fill="#0000ff" stroke="#0000ff" stroke-width="0.11" textLength="7.98" lengthAdjust="spacingAndGlyphs">0</tspan><tspan x="244.4" fill="#0000ff" stroke="#0000ff" stroke-width="0.04">.</tspan><tspan x="252.51" fill="#0000ff" stroke="#0000ff" stroke-width="0.11" textLength="7.98" lengthAdjust="spacingAndGlyphs">8</tspan></text>
<text class="x" x="181.4" y="53.0" textLength="9.7" lengthAdjust="spacingAndGlyphs">X</text>
<text class="x" x="154.6" y="426.4" textLength="9.7" lengthAdjust="spacingAndGlyphs">X</text>
<text class="a" x="93.6" y="30.4" transform="rotate(15.5 93.6 30.4)">15-30°</text>
</svg>
</body></html>
